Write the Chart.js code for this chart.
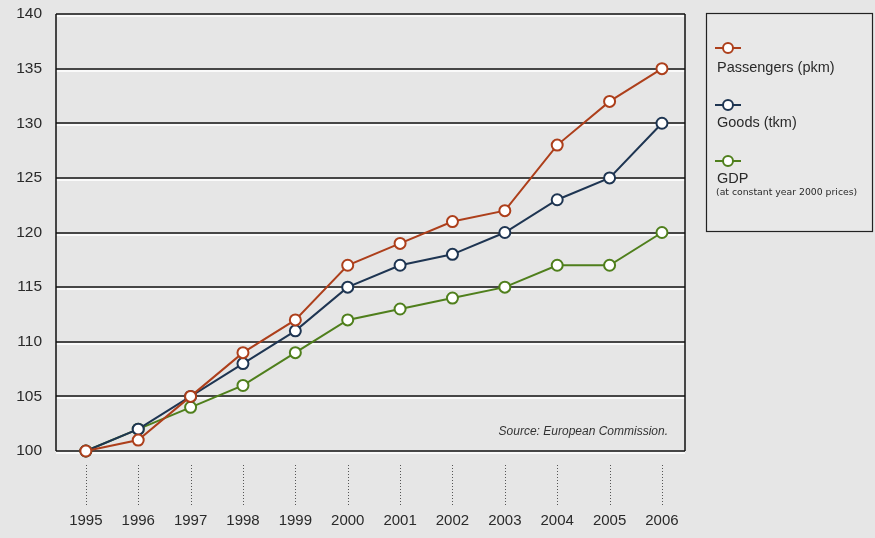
<!DOCTYPE html>
<html>
<head>
<meta charset="utf-8">
<script src="https://cdn.jsdelivr.net/npm/chart.js@4/dist/chart.umd.min.js"></script>
<style>
  html, body { margin: 0; padding: 0; background: #e6e6e6; }
  #wrap { width: 875px; height: 538px; }
</style>
</head>
<body>
<div id="wrap"><canvas id="myChart" width="875" height="538"></canvas></div>
<script>
// годы и индексы (1995 = 100)
const years = [1995, 1996, 1997, 1998, 1999, 2000, 2001, 2002, 2003, 2004, 2005, 2006];
const passengers = [100, 101, 105, 109, 112, 117, 119, 121, 122, 128, 132, 135];
const goods = [100, 102, 105, 108, 111, 115, 117, 118, 120, 123, 125, 130];
const gdp = [100, 102, 104, 106, 109, 112, 113, 114, 115, 117, 117, 120];
const yTicks = [100, 105, 110, 115, 120, 125, 130, 135, 140];

const colRed = '#ad3f1b';
const colBlue = '#1e3552';
const colGreen = '#4f7f1c';
const fontName = '"Liberation Sans", Arial, sans-serif';
const fontSmall = '"DejaVu Sans", Verdana, sans-serif';

const toPoints = (arr) => arr.map((v, i) => ({ x: years[i], y: v }));

const lineSet = (label, arr, col) => ({
  label,
  data: toPoints(arr),
  borderColor: col,
  backgroundColor: '#ffffff',
  borderWidth: 2,
  pointRadius: 5.5,
  pointBorderWidth: 2,
  pointBackgroundColor: '#ffffff',
  pointBorderColor: col,
  tension: 0,
  clip: false,
});

// рамка, рельефные линии сетки, пунктир под годами, подпись источника
const decor = {
  id: 'decor',
  beforeDatasetsDraw(chart) {
    const { ctx, chartArea: a, scales: { x, y } } = chart;
    ctx.save();
    yTicks.forEach((t) => {
      const py = Math.round(y.getPixelForValue(t));
      ctx.strokeStyle = '#fafafa';
      ctx.lineWidth = 2;
      ctx.beginPath();
      ctx.moveTo(a.left, py + 2);
      ctx.lineTo(a.right, py + 2);
      ctx.stroke();
      ctx.strokeStyle = '#111111';
      ctx.lineWidth = 1.5;
      ctx.beginPath();
      ctx.moveTo(a.left, py);
      ctx.lineTo(a.right, py);
      ctx.stroke();
    });
    ctx.strokeStyle = '#111111';
    ctx.lineWidth = 1.5;
    ctx.beginPath();
    ctx.moveTo(a.left, a.top);
    ctx.lineTo(a.left, a.bottom);
    ctx.moveTo(a.right, a.top);
    ctx.lineTo(a.right, a.bottom);
    ctx.stroke();

    // пунктир над подписями годов
    ctx.strokeStyle = '#555555';
    ctx.lineWidth = 1;
    ctx.setLineDash([1, 2]);
    years.forEach((yr) => {
      const px = Math.round(x.getPixelForValue(yr)) + 0.5;
      ctx.beginPath();
      ctx.moveTo(px, a.bottom + 14);
      ctx.lineTo(px, a.bottom + 55);
      ctx.stroke();
    });
    ctx.setLineDash([]);

    ctx.fillStyle = '#333333';
    ctx.font = 'italic 12px ' + fontName;
    ctx.textAlign = 'right';
    ctx.textBaseline = 'middle';
    ctx.fillText('Source: European Commission.', a.right - 17, a.bottom - 19);
    ctx.restore();
  },
  afterDraw(chart) {
    const { ctx } = chart;
    ctx.save();
    // блок легенды
    ctx.fillStyle = '#e8e8e8';
    ctx.fillRect(706, 13, 167, 219);
    ctx.strokeStyle = '#222222';
    ctx.lineWidth = 1.2;
    ctx.strokeRect(706.5, 13.5, 166, 218);

    const items = [
      { col: colRed, ym: 48, text: 'Passengers (pkm)', yt: 68 },
      { col: colBlue, ym: 105, text: 'Goods (tkm)', yt: 123 },
      { col: colGreen, ym: 161, text: 'GDP', yt: 179 },
    ];
    items.forEach((it) => {
      ctx.strokeStyle = it.col;
      ctx.lineWidth = 2;
      ctx.beginPath();
      ctx.moveTo(715, it.ym);
      ctx.lineTo(741, it.ym);
      ctx.stroke();
      ctx.beginPath();
      ctx.arc(728, it.ym, 5, 0, Math.PI * 2);
      ctx.fillStyle = '#ffffff';
      ctx.fill();
      ctx.stroke();
      ctx.fillStyle = '#2a2a2a';
      ctx.font = '14.5px ' + fontName;
      ctx.textAlign = 'left';
      ctx.textBaseline = 'middle';
      ctx.fillText(it.text, 717, it.yt);
    });
    ctx.font = '9.3px ' + fontSmall;
    ctx.fillText('(at constant year 2000 prices)', 716, 193);
    ctx.restore();
  },
};

Chart.defaults.plugins.tooltip.enabled = false;

const myChart = new Chart(document.getElementById('myChart'), {
  type: 'line',
  data: {
    datasets: [
      lineSet('Passengers (pkm)', passengers, colRed),
      lineSet('Goods (tkm)', goods, colBlue),
      lineSet('GDP', gdp, colGreen),
    ],
  },
  options: {
    responsive: false,
    animation: false,
    layout: { padding: { top: 14, right: 190, left: 0, bottom: 0 } },
    plugins: { legend: { display: false } },
    scales: {
      x: {
        type: 'linear',
        min: 1994.43,
        max: 2006.44,
        afterFit: (scale) => {
          scale.height = 87;
          scale.paddingLeft = 0;
          scale.paddingRight = 0;
        },
        afterBuildTicks: (scale) => { scale.ticks = years.map((v) => ({ value: v })); },
        grid: { display: false, drawTicks: false },
        border: { display: false },
        ticks: {
          padding: 61,
          color: '#2a2a2a',
          font: { family: fontName, size: 15 },
          callback: (v) => String(v),
        },
      },
      y: {
        min: 100,
        max: 140,
        afterFit: (scale) => {
          scale.width = 56;
          scale.paddingTop = 0;
          scale.paddingBottom = 0;
        },
        afterBuildTicks: (scale) => { scale.ticks = yTicks.map((v) => ({ value: v })); },
        grid: { display: false, drawTicks: false },
        border: { display: false },
        ticks: {
          padding: 14,
          color: '#2a2a2a',
          font: { family: fontName, size: 15.5 },
        },
      },
    },
  },
  plugins: [decor],
});
</script>
</body>
</html>
